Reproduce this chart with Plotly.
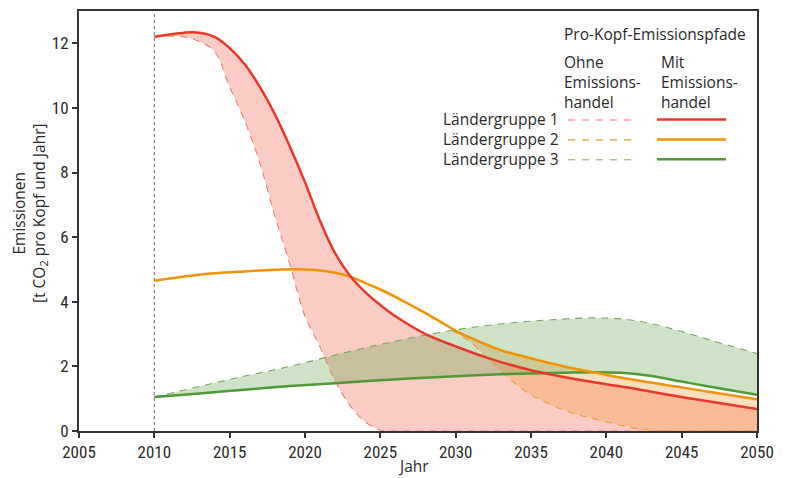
import plotly.graph_objects as go

# ---------------- data ----------------
years_g1 = [2010, 2011, 2012, 2013, 2014, 2015, 2016, 2017, 2018, 2019, 2020, 2021, 2022,
            2023, 2024, 2025, 2026, 2028, 2030, 2032, 2035, 2038, 2040, 2042, 2045, 2048, 2050]
g1_mit = [12.2, 12.27, 12.33, 12.33, 12.2, 11.85, 11.35, 10.65, 9.8, 8.8, 7.7, 6.5, 5.5,
          4.8, 4.3, 3.9, 3.55, 3.0, 2.62, 2.28, 1.88, 1.6, 1.45, 1.3, 1.05, 0.83, 0.68]
g1_ohne = [12.2, 12.22, 12.2, 12.05, 11.75, 10.65, 9.6, 8.3, 6.65, 5.15, 3.55, 2.6, 1.55,
           0.78, 0.28, 0.03, 0, 0, 0, 0, 0, 0, 0, 0, 0, 0, 0]

years_g2 = [2010, 2012, 2014, 2016, 2018, 2020, 2021, 2022, 2023, 2024, 2025, 2026, 2027,
            2028, 2029, 2030, 2031, 2032, 2033, 2034, 2035, 2036, 2037, 2038, 2039, 2040,
            2041, 2042, 2043, 2044, 2045, 2047, 2050]
g2_mit = [4.65, 4.78, 4.88, 4.94, 4.99, 5.0, 4.97, 4.9, 4.78, 4.58, 4.38, 4.15, 3.9,
          3.65, 3.38, 3.1, 2.88, 2.68, 2.5, 2.37, 2.25, 2.13, 2.02, 1.92, 1.83, 1.74,
          1.65, 1.57, 1.5, 1.42, 1.35, 1.2, 0.98]
g2_ohne = [4.65, 4.78, 4.88, 4.94, 4.99, 5.0, 4.97, 4.9, 4.78, 4.58, 4.38, 4.15, 3.9,
           3.65, 3.38, 3.05, 2.75, 2.3, 1.85, 1.45, 1.12, 0.88, 0.68, 0.52, 0.4, 0.28,
           0.17, 0.08, 0.02, 0, 0, 0, 0]

years_g3 = [2010, 2013, 2016, 2019, 2022, 2025, 2028, 2031, 2034, 2037, 2039, 2041, 2043,
            2045, 2047, 2050]
g3_mit = [1.05, 1.16, 1.28, 1.39, 1.48, 1.57, 1.65, 1.72, 1.77, 1.8, 1.82, 1.8, 1.7,
          1.53, 1.36, 1.12]
g3_ohne = [1.05, 1.38, 1.7, 2.0, 2.35, 2.68, 2.97, 3.2, 3.36, 3.46, 3.5, 3.47, 3.32,
           3.08, 2.8, 2.4]

groups = ["Ländergruppe 1", "Ländergruppe 2", "Ländergruppe 3"]
x_ticks = [2005, 2010, 2015, 2020, 2025, 2030, 2035, 2040, 2045, 2050]
y_ticks = [0, 2, 4, 6, 8, 10, 12]
reference_year = 2010

# ---------------- styles ----------------
solid_colors = ["#e8382a", "#f39200", "#4e9a37"]
dash_colors = ["#ef7f6e", "#f29b3e", "#72ab5a"]
legend_dash_colors = ["#f5a296", "#f6b26a", "#9dc98c"]
fill_colors = ["rgba(242,110,90,0.35)", "rgba(245,150,40,0.30)", "rgba(90,160,70,0.30)"]
FONT = "Open Sans"
NARROW = "Liberation Sans Narrow, Arial Narrow, Roboto Condensed, Open Sans"
TXT = "#2a2a2a"
FS = 15.5

series = [
    (years_g1, g1_ohne, g1_mit),
    (years_g2, g2_ohne, g2_mit),
    (years_g3, g3_ohne, g3_mit),
]

fig = go.Figure()

# fills
for i, (yrs, ohne, mit) in enumerate(series):
    fig.add_trace(go.Scatter(x=yrs, y=ohne, mode="lines", line=dict(width=0, shape="spline"),
                             hoverinfo="skip", showlegend=False))
    fig.add_trace(go.Scatter(x=yrs, y=mit, mode="lines", line=dict(width=0, shape="spline"),
                             fill="tonexty", fillcolor=fill_colors[i],
                             hoverinfo="skip", showlegend=False))

# dashed lines (ohne Emissionshandel)
for i, (yrs, ohne, mit) in enumerate(series):
    fig.add_trace(go.Scatter(x=yrs, y=ohne, mode="lines",
                             line=dict(color=dash_colors[i], width=1.1, dash="7px,6px", shape="spline"),
                             name=groups[i] + " ohne", showlegend=False))

# solid lines (mit Emissionshandel)
for i in [2, 1, 0]:
    yrs, ohne, mit = series[i]
    fig.add_trace(go.Scatter(x=yrs, y=mit, mode="lines",
                             line=dict(color=solid_colors[i], width=2.5, shape="spline"),
                             name=groups[i] + " mit", showlegend=False))

# reference vertical line
fig.add_shape(type="line", x0=reference_year, x1=reference_year, y0=0, y1=13,
              xref="x", yref="y", line=dict(color="#888888", width=1.3, dash="3px,3px"),
              layer="below")

# ---------------- legend (custom) ----------------
# page pixel -> paper helpers (page has 8px body offset)
L, T, W, H = 79, 9, 678, 422


def px(x):
    return (x - L) / W


def py(y):
    return (T + H - y) / H


ann = []
ann.append(dict(text="Pro-Kopf-Emissionspfade", x=px(562), y=py(32), xanchor="left",
                yanchor="middle", font=dict(size=FS, color=TXT)))
ann.append(dict(text="Ohne<br>Emissions-<br>handel", x=px(562), y=py(47), xanchor="left",
                yanchor="top", align="left", font=dict(size=FS, color=TXT)))
ann.append(dict(text="Mit<br>Emissions-<br>handel", x=px(659), y=py(47), xanchor="left",
                yanchor="top", align="left", font=dict(size=FS, color=TXT)))
row_y = [118, 138, 158]
for i, g in enumerate(groups):
    ann.append(dict(text=g, x=px(561), y=py(row_y[i]), xanchor="right", yanchor="middle",
                    font=dict(size=FS, color=TXT)))
    fig.add_shape(type="line", xref="paper", yref="paper", x0=px(568), x1=px(638),
                  y0=py(row_y[i] + 0.5), y1=py(row_y[i] + 0.5),
                  line=dict(color=legend_dash_colors[i], width=1.6, dash="7px,7px"))
    fig.add_shape(type="line", xref="paper", yref="paper", x0=px(657), x1=px(726),
                  y0=py(row_y[i]), y1=py(row_y[i]),
                  line=dict(color=solid_colors[i], width=2.5))

# y-axis title
ann.append(dict(text="Emissionen<br>[t CO<sub>2</sub> pro Kopf und Jahr]", x=px(29), y=py(212),
                xanchor="center", yanchor="middle", textangle=-90,
                font=dict(size=FS, color=TXT)))
# x-axis title
ann.append(dict(text="Jahr", x=px(413), y=py(466), xanchor="center", yanchor="middle",
                font=dict(size=FS, color=TXT)))

for a in ann:
    a.update(xref="paper", yref="paper", showarrow=False)

fig.update_layout(
    width=780, height=470,
    margin=dict(l=71, r=31, t=1, b=47),
    plot_bgcolor="white", paper_bgcolor="white",
    font=dict(family=FONT, size=FS, color=TXT),
    annotations=ann,
    showlegend=False,
)
fig.update_xaxes(range=[2005, 2050], tickvals=x_ticks, ticks="outside", ticklen=5,
                 tickwidth=1.5, tickcolor="#333", showline=True, linecolor="#333",
                 linewidth=2, mirror=True, showgrid=False, zeroline=False,
                 tickfont=dict(size=17, family=NARROW, color=TXT))
fig.update_yaxes(range=[0, 13], tickvals=y_ticks, ticks="outside", ticklen=5,
                 tickwidth=1.5, tickcolor="#333", showline=True, linecolor="#333",
                 linewidth=2, mirror=True, showgrid=False, zeroline=False,
                 tickfont=dict(size=17, family=NARROW, color=TXT))

fig.write_html("out.html")
